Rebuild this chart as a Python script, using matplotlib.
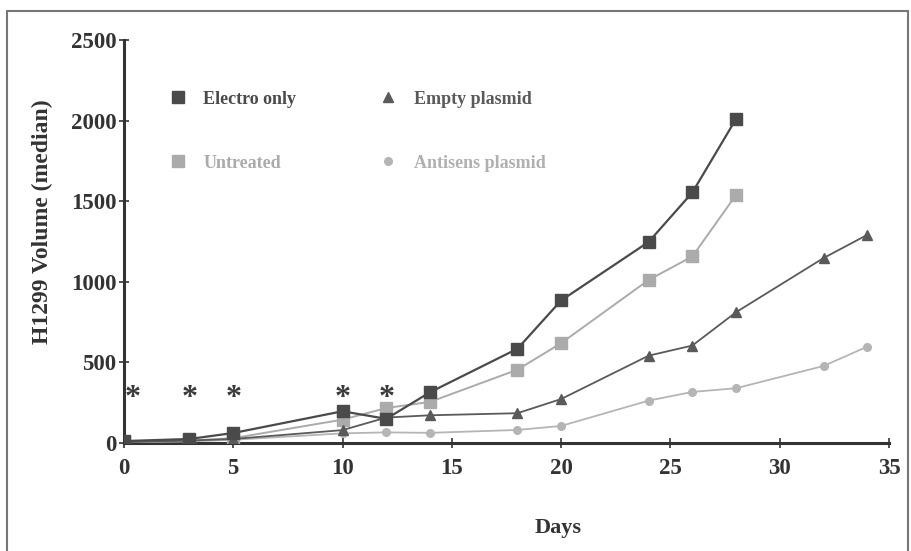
import matplotlib
matplotlib.use("Agg")
import matplotlib.pyplot as plt
from matplotlib.patches import Rectangle

plt.rcParams['font.family'] = ['Liberation Serif', 'DejaVu Serif']
plt.rcParams['font.weight'] = 'bold'
plt.rcParams['axes.labelweight'] = 'bold'

# data
days_short = [0, 3, 5, 10, 12, 14, 18, 20, 24, 26, 28]
days_long = [0, 3, 5, 10, 12, 14, 18, 20, 24, 26, 28, 32, 34]
electro = [12, 25, 62, 197, 150, 315, 585, 885, 1248, 1555, 2012]
untreated = [8, 15, 30, 145, 217, 255, 455, 620, 1012, 1158, 1540]
empty = [5, 15, 25, 80, 158, 172, 185, 273, 542, 605, 812, 1148, 1292]
antisens = [4, 10, 20, 60, 66, 63, 81, 106, 263, 317, 340, 478, 598]
star_days = [0.4, 3, 5, 10, 12]
star_level = 275

dark = '#4a4a4a'
light = '#ababab'

fig = plt.figure(figsize=(9.11, 5.51), dpi=100)
ax = fig.add_axes([0.136, 0.196, 0.840, 0.731])

ax.plot(days_short, untreated, color=light, lw=1.4, marker='s', ms=8, label='Untreated', zorder=3)
ax.plot(days_long, antisens, color='#b5b5b5', lw=1.3, marker='o', ms=5.5, label='Antisens plasmid', zorder=3)
ax.plot(days_long, empty, color='#5a5a5a', lw=1.3, marker='^', ms=6.5, label='Empty plasmid', zorder=4)
ax.plot(days_short, electro, color=dark, lw=1.6, marker='s', ms=8.5, label='Electro only', zorder=5)

for d in star_days:
    ax.text(d, star_level, '*', ha='center', va='center', fontsize=23, color='#3a3a3a')

ax.set_xlim(0, 35)
ax.set_ylim(0, 2500)
ax.set_xticks(range(0, 36, 5))
ax.set_yticks(range(0, 2501, 500))
for s in ['top', 'right']:
    ax.spines[s].set_visible(False)
for s in ['left', 'bottom']:
    ax.spines[s].set_linewidth(2.2)
    ax.spines[s].set_color('#333333')
ax.tick_params(axis='both', direction='inout', length=7, width=1.2, colors='#333333', labelsize=16.5)
ax.tick_params(axis='x', pad=7)
ax.tick_params(axis='y', pad=2)

ax.set_xlabel('Days', fontsize=16, color='#333333')
ax.xaxis.set_label_coords(0.567, -0.185)
ax.set_ylabel('H1299 Volume (median)', fontsize=17, color='#333333')
ax.yaxis.set_label_coords(-0.093, 0.55)

h, l = ax.get_legend_handles_labels()
order = [3, 0, 2, 1]
leg = ax.legend([h[i] for i in order], [l[i] for i in order], ncol=2, frameon=False,
                loc='upper left', bbox_to_anchor=(0.04, 0.915), fontsize=13,
                handlelength=0.8, handletextpad=1.0, labelspacing=2.6, columnspacing=4.7)
for hd in leg.legend_handles:
    hd.set_linestyle('none')
for txt, c in zip(leg.get_texts(), [dark, light, '#5a5a5a', '#b0b0b0']):
    txt.set_color(c)

fig.patches.append(Rectangle((7 / 911, -0.02), 901 / 911, 1 - 11 / 551 + 0.02,
                             transform=fig.transFigure, fill=False, edgecolor='#777777', lw=1.5))

fig.savefig('out.png', dpi=100)
